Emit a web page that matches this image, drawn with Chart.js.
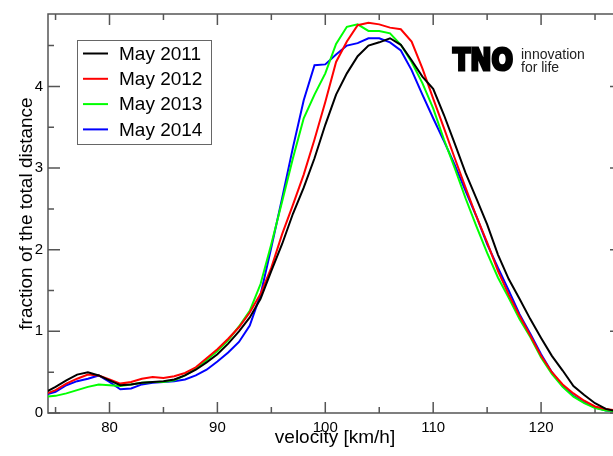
<!DOCTYPE html>
<html>
<head>
<meta charset="utf-8">
<script src="https://cdn.jsdelivr.net/npm/chart.js@4/dist/chart.umd.min.js"></script>
<style>
  html, body { margin: 0; padding: 0; background: #fff; overflow: hidden; }
  #wrap { width: 622px; height: 456px; }
</style>
</head>
<body>
<div id="wrap"><canvas id="chart"></canvas></div>
<script>
// velocidades (km/h) y fracción de la distancia total por año
const velocity = [74, 75, 76, 77, 78, 79, 80, 81, 82, 83, 84, 85, 86, 87, 88, 89, 90, 91, 92, 93,
  94, 95, 96, 97, 98, 99, 100, 101, 102, 103, 104, 105, 106, 107, 108, 109, 110, 111, 112, 113,
  114, 115, 116, 117, 118, 119, 120, 121, 122, 123, 124, 125, 126, 127];

const may2011 = [0.25, 0.32, 0.40, 0.47, 0.50, 0.46, 0.40, 0.34, 0.35, 0.37, 0.38, 0.39, 0.41, 0.46, 0.53, 0.62, 0.72, 0.85, 1.00, 1.17,
  1.40, 1.74, 2.07, 2.44, 2.76, 3.12, 3.53, 3.90, 4.16, 4.37, 4.50, 4.54, 4.59, 4.51, 4.32, 4.12, 3.97, 3.65, 3.30, 2.94,
  2.63, 2.31, 1.94, 1.64, 1.40, 1.15, 0.92, 0.70, 0.52, 0.33, 0.22, 0.12, 0.05, 0.02];

const may2012 = [0.23, 0.28, 0.36, 0.42, 0.47, 0.46, 0.41, 0.36, 0.38, 0.42, 0.44, 0.43, 0.45, 0.49, 0.56, 0.67, 0.78, 0.91, 1.05, 1.23,
  1.46, 1.78, 2.19, 2.55, 2.92, 3.35, 3.81, 4.30, 4.55, 4.75, 4.78, 4.76, 4.72, 4.70, 4.55, 4.22, 3.85, 3.49, 3.12, 2.76,
  2.41, 2.09, 1.74, 1.45, 1.19, 0.95, 0.70, 0.50, 0.35, 0.24, 0.15, 0.08, 0.05, 0.03];

const may2013 = [0.20, 0.21, 0.24, 0.28, 0.32, 0.35, 0.34, 0.33, 0.35, 0.37, 0.38, 0.38, 0.40, 0.46, 0.54, 0.65, 0.76, 0.89, 1.06, 1.25,
  1.58, 2.07, 2.59, 3.12, 3.61, 3.90, 4.16, 4.52, 4.73, 4.76, 4.68, 4.68, 4.65, 4.51, 4.30, 4.04, 3.73, 3.35, 3.00, 2.63,
  2.29, 1.96, 1.66, 1.41, 1.15, 0.93, 0.68, 0.48, 0.32, 0.20, 0.12, 0.06, 0.03, 0.02];

const may2014 = [0.22, 0.26, 0.34, 0.39, 0.42, 0.46, 0.38, 0.29, 0.30, 0.35, 0.37, 0.38, 0.39, 0.41, 0.46, 0.53, 0.63, 0.74, 0.87, 1.07,
  1.45, 2.03, 2.63, 3.25, 3.83, 4.26, 4.27, 4.39, 4.50, 4.53, 4.59, 4.59, 4.54, 4.44, 4.20, 3.90, 3.61, 3.33, 3.04, 2.72,
  2.41, 2.07, 1.78, 1.50, 1.21, 0.97, 0.72, 0.50, 0.33, 0.21, 0.13, 0.07, 0.03, 0.02];

const seriesLabels = ['May 2011', 'May 2012', 'May 2013', 'May 2014'];
const seriesColors = ['#000000', '#ff0000', '#00ff00', '#0000ff'];

// ticks
const xTicks = [80, 90, 100, 110, 120];
const xMinorTicks = [75, 85, 95, 105, 115, 125];
const yTicks = [0, 1, 2, 3, 4];
const yMinorTicks = [0.5, 1.5, 2.5, 3.5, 4.5];

const FONT = '"Liberation Sans", Arial, sans-serif';
const AXIS_COLOR = '#555';

// Marco con ticks hacia adentro (estilo xmgrace)
const framePlugin = {
  id: 'frame',
  beforeDatasetsDraw(chart) {
    const { ctx, chartArea: a, scales: { x, y } } = chart;
    ctx.save();
    ctx.strokeStyle = AXIS_COLOR;
    ctx.lineWidth = 1.5;
    ctx.strokeRect(a.left, a.top, a.right - a.left, a.bottom - a.top);
    ctx.beginPath();
    const xt = (vals, len) => vals.forEach(v => {
      const px = x.getPixelForValue(v);
      ctx.moveTo(px, a.bottom); ctx.lineTo(px, a.bottom - len);
      ctx.moveTo(px, a.top); ctx.lineTo(px, a.top + len);
    });
    const yt = (vals, len) => vals.forEach(v => {
      const py = y.getPixelForValue(v);
      ctx.moveTo(a.left, py); ctx.lineTo(a.left + len, py);
      ctx.moveTo(a.right, py); ctx.lineTo(a.right - len, py);
    });
    xt(xTicks, 11); xt(xMinorTicks, 6);
    yt(yTicks, 12); yt(yMinorTicks, 6);
    ctx.stroke();
    ctx.restore();
  },
  afterDatasetsDraw(chart) {
    const { ctx } = chart;
    ctx.save();
    // leyenda
    ctx.fillStyle = '#fff';
    ctx.fillRect(77.5, 40.5, 134, 104);
    ctx.strokeStyle = '#666';
    ctx.lineWidth = 1;
    ctx.strokeRect(77.5, 40.5, 134, 104);
    ctx.font = '19px ' + FONT;
    ctx.textBaseline = 'middle';
    chart.data.datasets.forEach((ds, i) => {
      const yy = 53.5 + i * 25.3;
      ctx.strokeStyle = ds.borderColor;
      ctx.lineWidth = 2;
      ctx.beginPath();
      ctx.moveTo(83, yy); ctx.lineTo(108, yy);
      ctx.stroke();
      ctx.fillStyle = '#000';
      ctx.fillText(ds.label, 119, yy + 1);
    });
    // logo TNO
    ctx.fillStyle = '#000';
    ctx.font = 'bold 31px "DejaVu Sans", sans-serif';
    ctx.textBaseline = 'alphabetic';
    const w = ctx.measureText('TNO').width;
    ctx.save();
    ctx.translate(453, 70);
    ctx.scale(60 / w, 1);
    ctx.lineWidth = 3;
    ctx.lineJoin = 'miter';
    ctx.strokeStyle = '#000';
    ctx.fillText('TNO', 0, 0);
    ctx.strokeText('TNO', 0, 0);
    ctx.restore();
    ctx.fillStyle = '#222';
    ctx.font = '14px ' + FONT;
    ctx.fillText('innovation', 521, 59);
    ctx.fillText('for life', 521, 71.5);
    ctx.restore();
  }
};

const ctx = document.getElementById('chart').getContext('2d');
const allSeries = [may2011, may2012, may2013, may2014];

new Chart(ctx, {
  type: 'line',
  data: {
    datasets: allSeries.map((vals, i) => ({
      label: seriesLabels[i],
      data: velocity.map((v, j) => ({ x: v, y: vals[j] })),
      borderColor: seriesColors[i],
      backgroundColor: seriesColors[i],
      borderWidth: 2,
      pointRadius: 0,
      tension: 0,
      fill: false
    }))
  },
  options: {
    responsive: true,
    maintainAspectRatio: false,
    animation: false,
    devicePixelRatio: 1,
    layout: { padding: { top: 12, right: 0, left: 0, bottom: 0 } },
    plugins: {
      legend: { display: false },
      tooltip: { enabled: false }
    },
    scales: {
      x: {
        type: 'linear',
        min: 74.3,
        max: 127.5,
        grid: { display: false, drawTicks: false },
        border: { display: false },
        afterBuildTicks: s => { s.ticks = xTicks.map(v => ({ value: v })); },
        afterFit: s => { s.height = 43; },
        ticks: { color: '#000', font: { family: FONT, size: 15 }, padding: 6, maxRotation: 0 },
        title: {
          display: true,
          text: 'velocity [km/h]',
          color: '#000',
          font: { family: FONT, size: 19 },
          padding: { top: 4, bottom: 7 }
        }
      },
      y: {
        min: 0,
        max: 4.887,
        grid: { display: false, drawTicks: false },
        border: { display: false },
        afterBuildTicks: s => { s.ticks = yTicks.map(v => ({ value: v })); },
        afterFit: s => { s.width = 48; },
        ticks: { color: '#000', font: { family: FONT, size: 15 }, padding: 5 },
        title: {
          display: true,
          text: 'fraction of the total distance',
          color: '#000',
          font: { family: FONT, size: 19 },
          padding: { top: 15, bottom: 4 }
        }
      }
    }
  },
  plugins: [framePlugin]
});
</script>
</body>
</html>
